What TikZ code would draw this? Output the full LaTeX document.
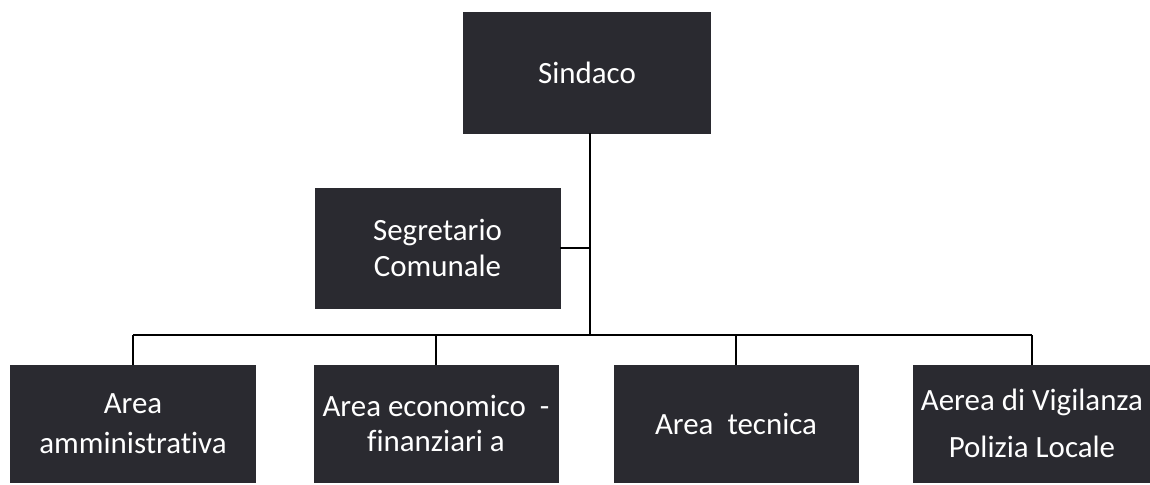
\documentclass[tikz,border=0pt]{standalone}
\usepackage{fontspec}
\setmainfont[Ligatures=NoCommon]{Carlito}
\definecolor{boxfill}{RGB}{42,42,48}
\begin{document}
\begin{tikzpicture}[x=0.02cm,y=-0.02cm,
  orgbox/.style={draw=boxfill, fill=boxfill, text=white, align=center, inner sep=0pt,
    font=\fontsize{17.6}{20}\selectfont},
  link/.style={draw=black, line width=1.1pt}]
\useasboundingbox (0,0) rectangle (1150,484);
\fill[white] (0,0) rectangle (1150,484);
\node[orgbox, minimum width=4.94cm, minimum height=2.42cm] (sindaco) at (587,72.5) {Sindaco};
\node[orgbox, minimum width=4.9cm, minimum height=2.4cm] (seg) at (437.5,248) {Segretario\\Comunale};
\node[orgbox, minimum width=4.9cm, minimum height=2.34cm, font=\fontsize{17.6}{22.7}\selectfont] (b1) at (133,423.5) {Area\\amministrativa};
\node[orgbox, minimum width=4.88cm, minimum height=2.34cm] (b2) at (436,423.5) {Area economico\ \ -\\finanziari a};
\node[orgbox, minimum width=4.88cm, minimum height=2.34cm] (b3) at (736,423.5) {Area\ \ tecnica};
\node[orgbox, minimum width=4.74cm, minimum height=2.34cm, font=\fontsize{17.6}{26.6}\selectfont] (b4) at (1032,423.5) {Aerea di Vigilanza\\Polizia Locale};
\coordinate (bus) at (590,335);
\draw[link] (sindaco.south -| bus) -- (bus);
\draw[link] (seg.east) -- (seg.east -| bus);
\draw[link] (b1.north |- bus) -- (b4.north |- bus);
\foreach \b in {b1,b2,b3,b4} \draw[link] (\b.north |- bus) -- (\b.north);
\end{tikzpicture}
\end{document}
